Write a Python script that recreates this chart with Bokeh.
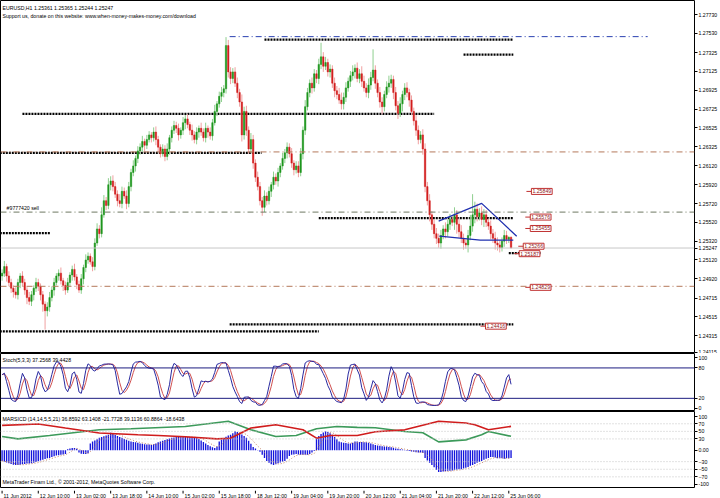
import numpy as np
from bokeh.plotting import figure
from bokeh.layouts import column
from bokeh.models import ColumnDataSource, FixedTicker, Span, Label, Range1d
from bokeh.core.properties import value
from bokeh.embed import file_html
from bokeh.resources import INLINE

FONT = "Liberation Sans"
FS = "5.2px"

# ---------------- data ----------------
time_labels = ["11 Jun 2012", "12 Jun 10:00", "13 Jun 02:00", "13 Jun 18:00", "14 Jun 10:00",
               "15 Jun 02:00", "15 Jun 18:00", "18 Jun 12:00", "19 Jun 04:00", "19 Jun 20:00",
               "20 Jun 12:00", "21 Jun 04:00", "21 Jun 20:00", "22 Jun 12:00", "25 Jun 06:00"]

first_open = 1.2495
closes = [
    1.2498, 1.2505, 1.2495, 1.2488, 1.2482, 1.2478, 1.2475, 1.2488,
    1.2495, 1.2488, 1.2480, 1.2472, 1.2468, 1.2475, 1.2482, 1.2488, 1.2484, 1.2475, 1.2465, 1.2458, 1.2462,
    1.2472, 1.2480, 1.2488, 1.2495, 1.2498, 1.2490, 1.2485, 1.2480, 1.2488, 1.2496,
    1.2502, 1.2494, 1.2486, 1.2480, 1.2492, 1.2504, 1.2512, 1.2516, 1.2510, 1.2505,
    1.2530, 1.2545, 1.2540, 1.2560, 1.2575, 1.2570, 1.2592, 1.2596,
    1.2590, 1.2582, 1.2575, 1.2572, 1.2585, 1.2580, 1.2572, 1.2590, 1.2605, 1.2612, 1.2620, 1.2628,
    1.2632, 1.2638, 1.2634, 1.2640, 1.2645, 1.2642, 1.2648, 1.2640, 1.2632, 1.2625, 1.2630, 1.2622,
    1.2630, 1.2642, 1.2650, 1.2655,
    1.2652, 1.2645, 1.2650, 1.2658, 1.2662, 1.2656, 1.2650, 1.2645, 1.2640, 1.2648, 1.2652, 1.2648,
    1.2642, 1.2652, 1.2648, 1.2644, 1.2658, 1.2670, 1.2678, 1.2686, 1.2690, 1.2694,
    1.2740, 1.2712, 1.2705,
    1.2712, 1.2700, 1.2690, 1.2680, 1.2645, 1.2670, 1.2650, 1.2630, 1.2640, 1.2615, 1.2600, 1.2590,
    1.2575, 1.2568, 1.2580,
    1.2575, 1.2585, 1.2592, 1.2600, 1.2596, 1.2605, 1.2612, 1.2620, 1.2626, 1.2632, 1.2625, 1.2615,
    1.2608, 1.2612,
    1.2605, 1.2625, 1.2650, 1.2675, 1.2690, 1.2700, 1.2695, 1.2710, 1.2705, 1.2720,
    1.2728, 1.2718, 1.2722, 1.2712, 1.2715, 1.2700, 1.2692, 1.2688, 1.2682, 1.2678,
    1.2685, 1.2695, 1.2702, 1.2708, 1.2712, 1.2716, 1.2705, 1.2710, 1.2702, 1.2695, 1.2690, 1.2698,
    1.2706, 1.2714, 1.2700,
    1.2690, 1.2680, 1.2675, 1.2688, 1.2696, 1.2700, 1.2704, 1.2690, 1.2676, 1.2668, 1.2678, 1.2688,
    1.2695, 1.2690, 1.2682,
    1.2670, 1.2660, 1.2650, 1.2640, 1.2645, 1.2630,
    1.2590, 1.2575, 1.2560, 1.2550, 1.2540, 1.2535,
    1.2530, 1.2538, 1.2545, 1.2542, 1.2550, 1.2555, 1.2552, 1.2560, 1.2550, 1.2542, 1.2535, 1.2530,
    1.2528, 1.2538, 1.2548, 1.2560, 1.2566, 1.2558, 1.2562, 1.2555, 1.2560, 1.2552, 1.2548, 1.2540,
    1.2535, 1.2530, 1.2528, 1.2525, 1.2532, 1.2538, 1.2534, 1.25361, 1.25247,
]
# shadow lengths above / below the body, in pips
wick_up = [
    4, 6, 3, 5, 4, 3, 5, 4,
    3, 5, 4, 3, 6, 4, 3, 5, 4, 3, 4, 3, 5,
    6, 4, 5, 3, 4, 6, 3, 4, 5, 3, 4, 6, 3, 4, 5, 3, 6, 4, 3, 5,
    5, 6, 4, 8, 6, 4, 7, 5,
    6, 5, 4, 7, 5, 4, 6, 5, 4, 6, 3, 5,
    4, 6, 3, 5, 4, 3, 5, 6, 4, 3, 5, 4, 6, 3, 4, 5,
    4, 5, 3, 6, 4, 5, 3, 6, 4, 5, 3, 6,
    4, 6, 3, 5, 4, 7, 3, 5, 6, 4,
    9, 6, 5,
    4, 5, 6, 4, 8, 5, 6, 4, 7, 5, 4, 6, 5, 4, 6,
    4, 5, 3, 6, 4, 5, 3, 6, 4, 5, 4, 6, 3, 5,
    5, 6, 4, 7, 5, 4, 6, 5, 4, 6,
    15, 5, 6, 4, 5, 4, 6, 5, 7, 8,
    5, 6, 4, 5, 7, 4, 6, 5, 8, 6, 5, 7, 6, 22, 5,
    4, 6, 5, 4, 6, 8, 5, 4, 6, 5, 7, 4, 5, 6, 4,
    5, 4, 6, 5, 4, 6,
    6, 5, 7, 4, 5, 6,
    5, 6, 4, 7, 5, 6, 4, 8, 5, 6, 7, 5, 4, 6, 12, 22, 8, 6, 5, 7, 6, 5, 4, 6, 5, 7, 6, 5, 4, 6,
    5, 1, 1,
]
wick_dn = [
    5, 4, 6, 4, 5, 6, 4, 5,
    6, 4, 5, 7, 4, 5, 6, 4, 5, 6, 8, 20, 6,
    5, 4, 6, 3, 5, 4, 6, 5, 3, 4, 6, 4, 5, 3, 4, 6, 5, 4, 3, 5,
    4, 3, 5, 4, 3, 5, 4, 6,
    5, 4, 6, 4, 5, 3, 6, 4, 5, 4, 6, 5,
    4, 5, 6, 4, 3, 5, 4, 6, 5, 4, 3, 5, 4, 6, 5, 4,
    5, 6, 4, 5, 7, 4, 5, 6, 4, 5, 6, 4,
    4, 5, 6, 4, 5, 3, 5, 4, 6, 5,
    5, 6, 6,
    5, 4, 6, 5, 7, 5, 6, 5, 4, 6, 5, 4, 5, 9, 5,
    5, 4, 6, 5, 4, 6, 5, 4, 5, 6, 4, 5, 6, 4,
    5, 4, 6, 5, 4, 5, 6, 4, 5, 6,
    5, 6, 4, 5, 6, 5, 7, 5, 4, 6,
    6, 5, 4, 6, 5, 7, 4, 5, 6, 4, 5, 6, 5, 4, 6,
    5, 6, 8, 5, 4, 6, 5, 7, 5, 6, 4, 8, 6, 5, 7,
    4, 5, 6, 5, 4, 6,
    6, 5, 7, 6, 5, 6,
    5, 6, 4, 7, 5, 6, 4, 8, 10, 6, 5, 7, 4, 8, 5, 6, 9, 5, 4, 6, 8, 5, 4, 6, 5, 7, 6, 5, 4, 6,
    5, 4, 0,
]

price_ticks = [1.27730, 1.27530, 1.27325, 1.27125, 1.26925, 1.26725, 1.26525, 1.26325, 1.26120,
               1.25920, 1.25720, 1.25520, 1.25320, 1.25247, 1.25120, 1.24920, 1.24715, 1.24515,
               1.24315]
bid_price = 1.25247

# support / resistance segments: (price, from bar, to bar)
dotted_levels = [(1.27463, 116, 226), (1.27303, 204, 226), (1.26674, 9, 191), (1.26258, -1, 114.7),
                 (1.25405, -1, 21.3), (1.25565, 140, 226), (1.25192, 224, 238), (1.24435, 100.6, 226),
                 (1.24360, -1, 140)]
blue_level = (1.27495, 100.6, 285.4)
brown_levels = [1.26269, 1.24840]
sell_level = 1.25629
price_tags = [(1.25849, 234), (1.25576, 233.5), (1.25455, 233.5), (1.25266, 230.4),
              (1.25187, 228.6), (1.24829, 233.5), (1.24416, 213.7)]
wedge_upper = ([193, 212, 227.5], [1.25533, 1.25722, 1.25373])
wedge_lower = ([193.3, 211.4, 226], [1.25373, 1.25331, 1.25331])

# MARSICD histogram, one value per bar
hist = [
    -28, -30, -32, -34, -36, -38, -39,
    -39, -38, -37, -36, -35, -35, -34,
    -33, -31, -29, -27, -25, -23, -21, -20,
    -18, -16, -14, -13, -12, -11, -10,
    3, 5, 6, 6, 4,
    -6, -9, -10, -10, -8,
    18, 23, 26, 29, 33, 35, 37, 39, 41, 46,
    44, 41, 38, 35, 33, 30, 28, 25, 23,
    22, 21, 20, 18, 17, 16, 15, 15, 14,
    16, 18, 21, 23, 25, 27, 29, 31, 33,
    34, 35, 35, 35, 36, 35, 35, 35, 34, 34, 33,
    30, 26, 22, 18, 14, 11, 8, 6, 10,
    23, 28, 32, 36, 39, 41, 45, 50, 48, 46,
    42, 38, 33, 25, 17, 9, 5, 1, -4, -12, -20,
    -28, -33, -37, -39, -37, -34, -32, -30, -28, -22,
    -15, -12, -11, -10, -11, -12, -12, -12, -12, -10, -6, -2,
    33, 38, 43, 47, 50, 48, 45, 41, 35, 29, 23,
    21, 20, 19, 18, 18, 20, 23, 23, 22, 22, 21, 21, 20, 18, 16, 14,
    13, 12, 11, 10, 10, 9, 8, 7, 5, 4, 3, 2, 1, -1, -2,
    -3, -4, -5, -6, -6, -7,
    -20, -27, -33, -39, -45, -52, -57,
    -57, -56, -55, -54, -54, -53, -52, -51, -50, -50,
    -48, -46, -44, -41, -39, -36, -33, -30, -28,
    -25, -22, -20, -18, -18, -19, -21, -21, -21, -22, -21, -21, -20,
]
# MARSICD oscillator lines: (bar, value)
red_bars = [0, 16, 28, 43, 60, 69, 81, 95, 101, 110, 121, 133, 139, 145, 157, 165, 178, 193, 205, 209, 215, 225]
red_vals = [65.8, 69.5, 58.8, 45.5, 40.9, 39.0, 35.6, 30.2, 32.0, 58.8, 67.6, 54.3, 32.0, 39.0, 39.0,
            49.0, 54.0, 76.5, 72.0, 67.6, 54.3, 63.1]
green_bars = [0, 7, 21, 43, 57, 81, 100, 110, 121, 130, 139, 148, 157, 165, 178, 186, 193, 205, 212, 215, 225]
green_vals = [36.4, 30.2, 39.0, 54.3, 57.0, 63.0, 76.5, 54.3, 36.4, 39.0, 57.0, 63.0, 60.4, 59.6, 49.7,
              46.3, 22.2, 27.5, 41.0, 49.7, 36.9]

# ---------------- candles ----------------
n = min(len(closes), len(wick_up), len(wick_dn), len(hist))
idx = np.arange(n, dtype=float)
cl = np.array(closes[:n])
op = np.concatenate([[first_open], cl[:-1]])
top = np.maximum(op, cl)
bot = np.minimum(op, cl)
hi = top + np.array(wick_up[:n]) * 0.0001
lo = bot - np.array(wick_dn[:n]) * 0.0001
bull = cl >= op

# Stochastic %K(5), slowing 3, %D(3) from the candles
kp, slow, dp = 5, 3, 3
num = np.zeros(n)
den = np.zeros(n)
for i in range(n):
    a = max(0, i - kp + 1)
    ll, hh = lo[a:i + 1].min(), hi[a:i + 1].max()
    num[i], den[i] = cl[i] - ll, hh - ll
stoch_main = np.zeros(n)
for i in range(n):
    a = max(0, i - slow + 1)
    d = den[a:i + 1].sum()
    stoch_main[i] = 100.0 * num[a:i + 1].sum() / d if d > 0 else 50.0
stoch_sig = np.array([stoch_main[max(0, i - dp + 1):i + 1].mean() for i in range(n)])

h = np.array(hist[:n], dtype=float)
hist_sig = np.array([h[max(0, i - 4):i + 1].mean() for i in range(n)])

# ---------------- layout ----------------
x_range = Range1d(-0.7, 306.1)
W = 720


def panel(height, y0, y1):
    p = figure(width=W, height=height, x_range=x_range, y_range=Range1d(y0, y1),
               output_backend="svg", toolbar_location=None,
               x_axis_location=None, y_axis_location="right",
               min_border_left=0, min_border_top=0, min_border_bottom=0, min_border_right=23)
    p.xgrid.visible = False
    p.ygrid.visible = False
    p.outline_line_color = "black"
    p.outline_line_width = 1
    p.background_fill_color = "white"
    p.border_fill_color = "white"
    ax = p.yaxis[0]
    ax.axis_line_color = None
    ax.major_tick_out = 3
    ax.major_tick_in = 0
    ax.minor_tick_line_color = None
    ax.major_label_standoff = 1
    ax.major_label_text_font = FONT
    ax.major_label_text_font_size = FS
    ax.major_label_text_color = "black"
    return p


def lbl(p, x, y, text, size=FS, color="black", **kw):
    p.add_layout(Label(x=x, y=y, text=text, text_font=FONT, text_font_size=size,
                       text_color=color, **kw))


# main price panel (the lowest scale label sits just inside the frame edge)
p1 = panel(353, 1.241254, 1.278793)
main_ticks = price_ticks + [1.24140]
p1.yaxis[0].ticker = FixedTicker(ticks=main_ticks)
p1.yaxis[0].major_label_overrides = {**{t: f"{t:.5f}" for t in price_ticks}, 1.24140: "1.24115"}

for pr in brown_levels:
    p1.add_layout(Span(location=pr, dimension="width", line_color="#b4785a", line_width=1,
                       line_dash="6 3 1 3"))
p1.add_layout(Span(location=sell_level, dimension="width", line_color="#6e7862", line_width=1,
                   line_dash="6 3 1 3"))
p1.add_layout(Span(location=bid_price, dimension="width", line_color="#c8c8c8", line_width=1))

lv = ColumnDataSource(dict(x0=[d[1] for d in dotted_levels], x1=[d[2] for d in dotted_levels],
                           y=[d[0] for d in dotted_levels]))
p1.segment(x0="x0", y0="y", x1="x1", y1="y", source=lv, line_color="black", line_width=2.2,
           line_dash="2 1")
p1.segment(x0=[blue_level[1]], y0=[blue_level[0]], x1=[blue_level[2]], y1=[blue_level[0]],
           line_color="#2a40b0", line_width=1, line_dash="6 3 1 3")

src = ColumnDataSource(dict(x=idx, top=top, bot=bot, hi=hi, lo=lo,
                            wick=np.where(bull, "#8fcf8f", "#f0a0a0"),
                            body=np.where(bull, "#1e961e", "#d21e1e")))
p1.segment(x0="x", y0="lo", x1="x", y1="hi", source=src, line_color="wick", line_width=1)
p1.vbar(x="x", top="top", bottom="bot", width=0.62, source=src, fill_color="body",
        line_color="body", line_width=0.5)

p1.line(wedge_upper[0], wedge_upper[1], line_color="#2030b0", line_width=1.3)
p1.line(wedge_lower[0], wedge_lower[1], line_color="#2030b0", line_width=1.3)

for pr, bx in price_tags:
    p1.segment(x0=[bx - 2.2], y0=[pr], x1=[bx], y1=[pr], line_color="#c03030", line_width=1)
    lbl(p1, bx, pr, f"{pr:.5f}", color="#902020", y_offset=-3,
        border_line_color="#c03030", border_line_width=1, background_fill_color="white",
        padding=1)

lbl(p1, 2, sell_level, "#9777420 sell", y_offset=1)
lbl(p1, 2, 0, "EURUSD,H1  1.25361 1.25365 1.25244 1.25247", x_units="screen", y_units="screen",
    y_offset=343)
lbl(p1, 2, 0, "Support us, donate on this website: www.when-money-makes-money.com/download",
    x_units="screen", y_units="screen", y_offset=335)

# stochastic panel
p2 = panel(58, -6, 108.5)
p2.yaxis[0].ticker = FixedTicker(ticks=[100, 80, 20, 0])
for lvl in (80, 20):
    p2.add_layout(Span(location=lvl, dimension="width", line_color="#1c1c80", line_width=1))
p2.line(idx, stoch_sig, line_color="#d05050", line_width=1)
p2.line(idx, stoch_main, line_color="#2a2aa0", line_width=1)
lbl(p2, 2, 0, "Stoch(5,3,3) 37.2568 39.4428", x_units="screen", y_units="screen", y_offset=49)

# MARSICD panel (the +-100 scale labels sit just inside the frame edges)
p3 = panel(77, -100.8, 102.4)
p3.yaxis[0].ticker = FixedTicker(ticks=[89, 70, 50, 30, 0, -30, -50, -70, -90])
p3.yaxis[0].major_label_overrides = {89: "100", 0: "0.00", -90: "-100"}
for lvl in (70, 50, 30, -30, -50, -70):
    p3.add_layout(Span(location=lvl, dimension="width", line_color="#c4c4c4", line_width=1,
                       line_dash="1 2"))
p3.vbar(x=idx, top=np.maximum(h, 0), bottom=np.minimum(h, 0), width=0.6,
        fill_color="#1414dc", line_color=None)
p3.line(idx, hist_sig, line_color="#c08060", line_width=1, line_dash="1 2")
p3.line(green_bars, green_vals, line_color="#3c9a5a", line_width=1.6)
p3.line(red_bars, red_vals, line_color="#d01c1c", line_width=1.6)
lbl(p3, 2, 0, "MARSICD (14,14,5,5,21) 36.8592 63.1408 -21.7728 39.1136 60.8864 -18.6438",
    x_units="screen", y_units="screen", y_offset=67)
lbl(p3, 2, 0, "MetaTrader Finam Ltd., \u00a9 2001-2012, MetaQuotes Software Corp.",
    x_units="screen", y_units="screen", y_offset=4)

# time scale strip: tick marks with labels starting at each tick
time_ticks = [16 * k for k in range(len(time_labels))]
p4 = figure(width=W, height=10, x_range=x_range, y_range=Range1d(0, 10),
            output_backend="svg", toolbar_location=None, x_axis_location=None,
            y_axis_location=None, min_border_left=0, min_border_top=0, min_border_bottom=0,
            min_border_right=23)
p4.xgrid.visible = False
p4.ygrid.visible = False
p4.outline_line_color = None
p4.background_fill_color = "white"
p4.border_fill_color = "white"
p4.segment(x0=time_ticks, y0=[10] * len(time_ticks), x1=time_ticks, y1=[7] * len(time_ticks),
           line_color="black", line_width=1)
p4.text(x=time_ticks, y=[7.5] * len(time_ticks), text=time_labels, x_offset=1.5,
        text_font=value(FONT), text_font_size=value(FS), text_baseline="top",
        text_align="left", text_color="black")

layout = column(p1, p2, p3, p4, spacing=0)
open("out.html", "w").write(file_html(layout, INLINE))
